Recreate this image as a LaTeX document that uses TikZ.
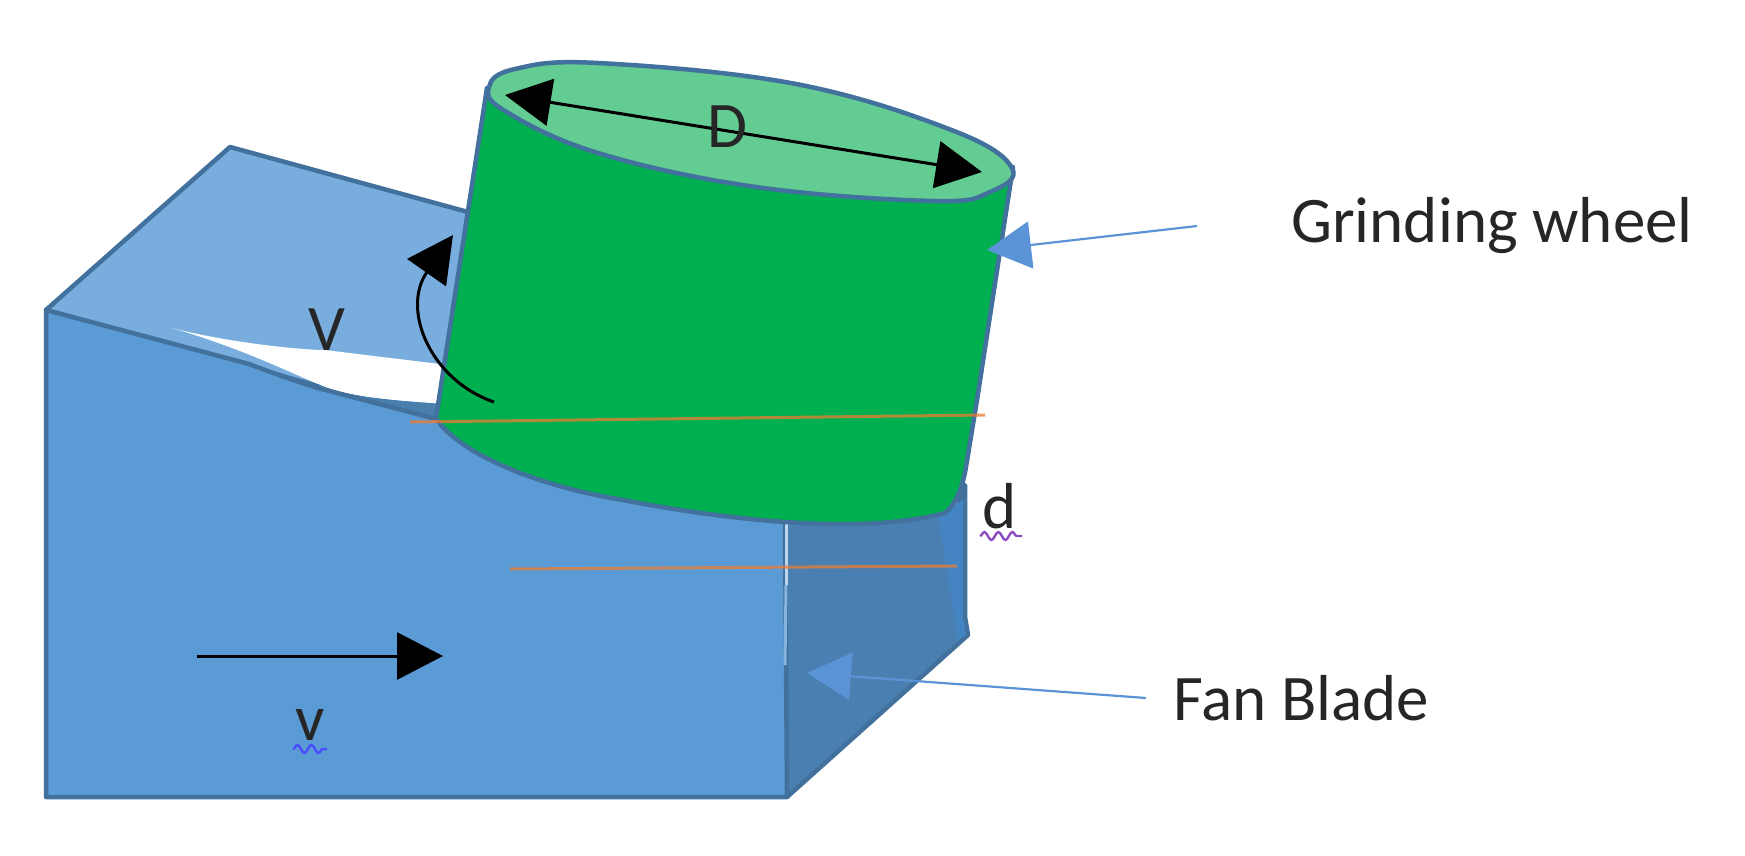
\documentclass[tikz,border=0pt]{standalone}
\usepackage{fontspec}
\setmainfont{Carlito}
\usepackage{tikz}
\usetikzlibrary{positioning,arrows.meta,decorations.pathmorphing}
\definecolor{frontblue}{HTML}{5B9BD5}
\definecolor{topblue}{HTML}{78ADDD}
\definecolor{sideblue}{HTML}{4A7FB2}
\definecolor{stripblue}{HTML}{4584C2}
\definecolor{edgeblue}{HTML}{41719C}
\definecolor{wheelgreen}{HTML}{00B050}
\definecolor{rimgreen}{HTML}{62CC93}
\definecolor{cutorange}{HTML}{ED7D31}
\definecolor{leaderblue}{HTML}{5B94D6}
\begin{document}
\begin{tikzpicture}[x=1pt,y=-1pt,on grid,
	face/.style={draw=edgeblue,line width=4.5pt,line join=round},
	lbl/.style={font=\fontsize{65}{78}\selectfont,text=black!85,inner sep=0pt},
	bigtip/.style={-{Triangle[length=46pt,width=47pt]},line width=3pt,black},
	leader/.style={-{Triangle[length=44pt,width=47pt]},line width=2.2pt,leaderblue},
	cut/.style={cutorange,line width=3pt,opacity=.75},
	squiggle/.style={decorate,decoration={snake,segment length=14pt,amplitude=4pt},line width=2.4pt}]
	
   \useasboundingbox (0,0) rectangle (1745,855);
   \fill[white] (0,0) rectangle (1745,855);
   % block
   \draw[face,fill=topblue] (46,310) -- (230,147) -- (468,212) -- (440,420) -- cycle;
   \fill[white] (172,328) .. controls (225,342) and (300,350) .. (325,350) -- (448,365) -- (445,404) .. controls (380,400) and (340,395) .. (318,384) .. controls (280,368) and (240,348) .. (172,328) -- cycle;
   \fill[edgeblue!70!frontblue] (318,384) .. controls (340,395) and (380,400) .. (445,404) -- (445,420) -- (318,390) -- cycle;
   \draw[face,fill=sideblue] (785,515) -- (955,515) -- (965,485) -- (965,617) -- (968,635) -- (787,797) -- cycle;
   \fill[stripblue] (938,515) -- (963,500) -- (963,617) -- (966,635) -- (958,640) -- cycle;
   \draw[face,fill=frontblue] (46,310) -- (249,364) .. controls (270,372) and (295,381) .. (318,388) -- (440,420) -- (785,522) -- (787,797) -- (46,797) -- cycle;
   \draw[white!60!frontblue,line width=3pt] (786,524) -- (786,585);
   \draw[white!25!frontblue,line width=3pt] (786,585) -- (785,665);
   % wheel
   \draw[face,fill=wheelgreen] (487,88) -- (436,418) .. controls (455,450) and (530,485) .. (623,500) .. controls (700,515) and (800,528) .. (879,523) .. controls (910,521) and (935,516) .. (945,513) .. controls (955,505) and (962,490) .. (966,467) -- (977,400) -- (1013,167) -- cycle;
   \draw[face,fill=rimgreen] plot[smooth cycle,tension=.65] coordinates {(489,87) (515,69) (598,63) (796,84) (954,131) (1012,168) (990,192) (934,201) (756,187) (598,153) (505,111)};
   \draw[cut] (410,422) -- (985,415);
   \draw[cut] (510,569) -- (957,566);
   % arrows
   \coordinate (D_l) at (505,95);
   \coordinate (D_r) at (982,172);
   \coordinate (w_0) at (494,402);
   \coordinate (w_1) at (453,235);
   \coordinate (b_0) at (197,656);
   \coordinate (b_1) at (443,656);
   \path[bigtip,{Triangle[length=46pt,width=47pt]}-{Triangle[length=46pt,width=47pt]}] (D_l) edge (D_r);
   \draw[bigtip] (w_0) .. controls (430,380) and (401,309) .. (w_1);
   \path[bigtip] (b_0) edge (b_1);
   % labels
   \node[lbl] (t_D) at (727,127) {D};
   \node[lbl] (t_V) at (327,330) {V};
   \node[lbl] (t_d) at (1000,506) {d};
   \node[lbl] (t_v) at (310,725) {v};
   \node[lbl] (t_gw) at (1492,226) {Grinding wheel};
   \node[lbl] (t_fb) [below left=472pt and 191pt of t_gw] {Fan Blade};
   \coordinate[left=295pt of t_gw] (gw_0);
   \coordinate (gw_1) at (987,250);
   \coordinate[left=155pt of t_fb] (fb_0);
   \coordinate (fb_1) at (807,673);
   \path[leader] (gw_0) edge (gw_1);
   \path[leader] (fb_0) edge (fb_1);
   \coordinate (u_0) at (980,536);
   \coordinate (u_1) at (1022,536);
   \coordinate (u_2) at (293,749);
   \coordinate (u_3) at (327,749);
   \draw[squiggle,violet!70!blue!70] (u_0) -- (u_1);
   \draw[squiggle,blue!70] (u_2) -- (u_3);
\end{tikzpicture}
\end{document}
